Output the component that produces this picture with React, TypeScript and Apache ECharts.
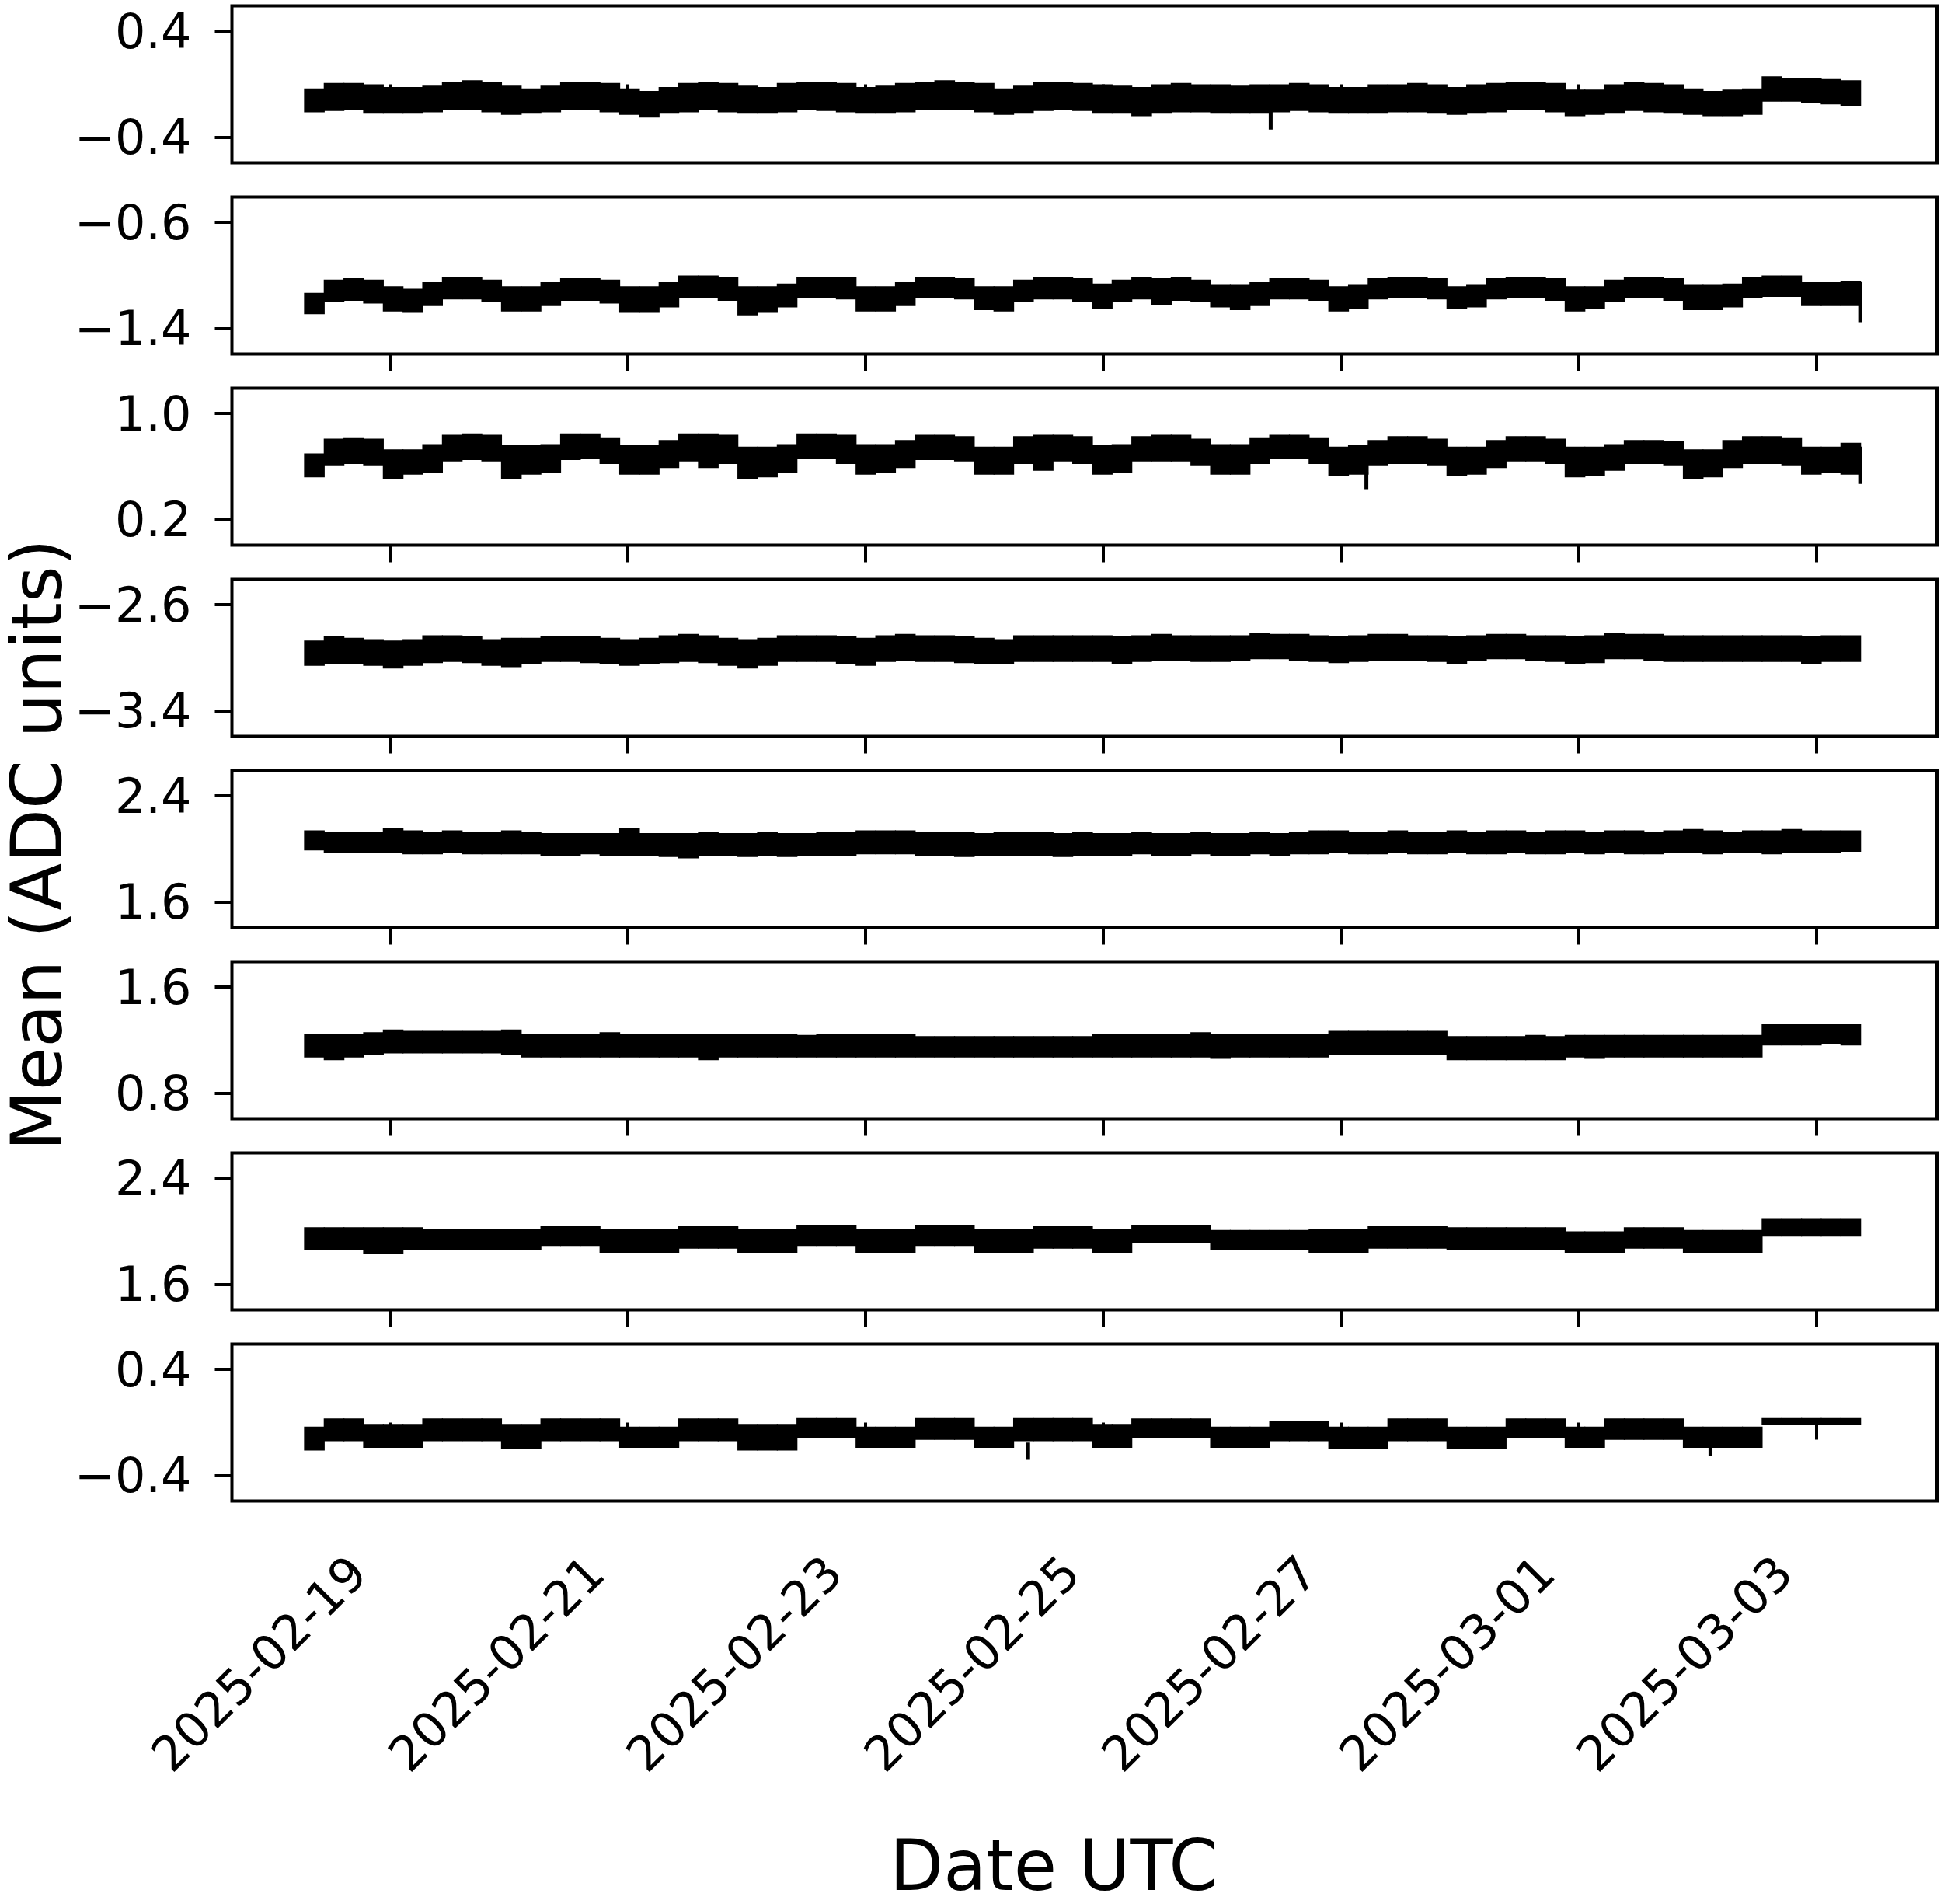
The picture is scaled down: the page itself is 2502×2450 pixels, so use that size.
import React, { useEffect, useRef } from "react";
import * as echarts from "echarts";

// ---- time frame (UTC) ----
const DATA_START = "2025-02-18T06:40:00Z";
const DATA_END = "2025-03-03T09:00:00Z";
const AXIS_START = "2025-02-17T16:00:00Z";
const AXIS_END = "2025-03-04T00:26:00Z";
const X_TICK_LABELS = ["2025-02-19", "2025-02-21", "2025-02-23", "2025-02-25", "2025-02-27", "2025-03-01", "2025-03-03"];

// ---- y axes: tick values and limits per panel ----
const Y_TICKS = [[-0.4, 0.4], [-1.4, -0.6], [0.2, 1.0], [-3.4, -2.6], [1.6, 2.4], [0.8, 1.6], [1.6, 2.4], [-0.4, 0.4]];
const Y_MIN = [-0.59, -1.59, 0.01, -3.59, 1.41, 0.61, 1.41, -0.59];
const Y_MAX = [0.59, -0.41, 1.19, -2.41, 2.59, 1.79, 2.59, 0.59];

// ---- band envelopes (upper / lower edge of the noisy trace, ~4 h bins) ----
const P1_HI = [-0.03, 0.01, 0.01, 0.00, -0.02, -0.02, -0.01, 0.02, 0.03, 0.02,
  -0.01, -0.03, -0.01, 0.02, 0.02, 0.01, -0.03, -0.05, -0.02, 0.01,
  0.02, 0.01, -0.01, -0.02, 0.01, 0.02, 0.02, 0.01, -0.02, -0.01,
  0.01, 0.02, 0.03, 0.02, 0.01, -0.03, -0.01, 0.02, 0.02, 0.01,
  0.00, -0.01, -0.02, 0.00, 0.01, 0.00, 0.00, -0.01, 0.00, 0.00,
  0.01, 0.00, -0.02, -0.02, 0.00, 0.00, 0.01, 0.00, -0.02, 0.00,
  0.01, 0.02, 0.02, 0.01, -0.04, -0.04, 0.00, 0.02, 0.01, 0.00,
  -0.03, -0.05, -0.04, -0.03, 0.06, 0.05, 0.05, 0.04, 0.03];
const P1_LO = [-0.21, -0.20, -0.19, -0.22, -0.22, -0.22, -0.21, -0.19, -0.19, -0.21,
  -0.23, -0.22, -0.21, -0.19, -0.19, -0.21, -0.23, -0.25, -0.22, -0.21,
  -0.19, -0.21, -0.22, -0.22, -0.21, -0.19, -0.20, -0.21, -0.22, -0.22,
  -0.21, -0.19, -0.19, -0.19, -0.21, -0.23, -0.22, -0.20, -0.19, -0.20,
  -0.22, -0.22, -0.24, -0.22, -0.21, -0.21, -0.22, -0.22, -0.22, -0.21,
  -0.20, -0.21, -0.22, -0.22, -0.22, -0.21, -0.21, -0.22, -0.23, -0.22,
  -0.21, -0.19, -0.19, -0.21, -0.24, -0.23, -0.22, -0.20, -0.21, -0.22,
  -0.23, -0.24, -0.24, -0.23, -0.13, -0.13, -0.14, -0.15, -0.16];

const P2_HI = [-1.13, -1.03, -1.02, -1.03, -1.08, -1.10, -1.05, -1.01, -1.01, -1.03,
  -1.08, -1.08, -1.05, -1.02, -1.02, -1.03, -1.08, -1.08, -1.05, -1.00,
  -1.00, -1.01, -1.08, -1.08, -1.06, -1.01, -1.01, -1.01, -1.08, -1.08,
  -1.05, -1.01, -1.01, -1.02, -1.08, -1.08, -1.03, -1.01, -1.01, -1.02,
  -1.06, -1.03, -1.01, -1.02, -1.01, -1.03, -1.07, -1.07, -1.05, -1.02,
  -1.02, -1.03, -1.08, -1.07, -1.02, -1.01, -1.01, -1.02, -1.08, -1.07,
  -1.02, -1.01, -1.01, -1.02, -1.08, -1.08, -1.03, -1.01, -1.01, -1.02,
  -1.07, -1.07, -1.06, -1.01, -1.00, -1.00, -1.05, -1.05, -1.04];
const P2_LO = [-1.29, -1.20, -1.19, -1.21, -1.27, -1.28, -1.23, -1.18, -1.18, -1.20,
  -1.27, -1.27, -1.23, -1.19, -1.19, -1.21, -1.28, -1.28, -1.24, -1.17,
  -1.17, -1.19, -1.30, -1.28, -1.24, -1.17, -1.17, -1.18, -1.27, -1.27,
  -1.23, -1.17, -1.17, -1.18, -1.26, -1.27, -1.20, -1.18, -1.18, -1.20,
  -1.25, -1.20, -1.18, -1.22, -1.19, -1.20, -1.24, -1.26, -1.23, -1.18,
  -1.18, -1.19, -1.27, -1.25, -1.18, -1.17, -1.17, -1.18, -1.25, -1.24,
  -1.18, -1.17, -1.17, -1.19, -1.27, -1.25, -1.20, -1.17, -1.17, -1.19,
  -1.26, -1.26, -1.24, -1.17, -1.16, -1.16, -1.23, -1.23, -1.23];

const P3_HI = [0.70, 0.81, 0.82, 0.81, 0.73, 0.73, 0.77, 0.84, 0.85, 0.84,
  0.76, 0.76, 0.77, 0.85, 0.85, 0.82, 0.76, 0.76, 0.80, 0.85,
  0.85, 0.84, 0.75, 0.75, 0.77, 0.85, 0.85, 0.84, 0.77, 0.77,
  0.80, 0.84, 0.84, 0.83, 0.75, 0.75, 0.83, 0.84, 0.84, 0.83,
  0.76, 0.77, 0.83, 0.84, 0.84, 0.81, 0.77, 0.77, 0.82, 0.84,
  0.84, 0.82, 0.75, 0.76, 0.80, 0.83, 0.83, 0.81, 0.75, 0.75,
  0.80, 0.83, 0.83, 0.81, 0.75, 0.75, 0.77, 0.80, 0.80, 0.79,
  0.73, 0.73, 0.80, 0.83, 0.83, 0.82, 0.75, 0.75, 0.78];
const P3_LO = [0.52, 0.61, 0.62, 0.61, 0.51, 0.54, 0.55, 0.64, 0.65, 0.64,
  0.51, 0.54, 0.55, 0.65, 0.66, 0.62, 0.54, 0.54, 0.59, 0.64,
  0.59, 0.62, 0.51, 0.52, 0.55, 0.66, 0.66, 0.62, 0.54, 0.55,
  0.59, 0.65, 0.65, 0.64, 0.54, 0.54, 0.62, 0.57, 0.64, 0.62,
  0.54, 0.55, 0.64, 0.64, 0.64, 0.61, 0.54, 0.54, 0.62, 0.66,
  0.66, 0.62, 0.53, 0.54, 0.61, 0.62, 0.62, 0.61, 0.53, 0.54,
  0.59, 0.64, 0.64, 0.62, 0.52, 0.53, 0.57, 0.62, 0.62, 0.61,
  0.51, 0.52, 0.59, 0.62, 0.62, 0.61, 0.54, 0.55, 0.54];

const P4_HI = [-2.87, -2.84, -2.85, -2.86, -2.87, -2.86, -2.83, -2.83, -2.84, -2.86,
  -2.85, -2.85, -2.84, -2.84, -2.84, -2.85, -2.86, -2.85, -2.83, -2.82,
  -2.83, -2.85, -2.86, -2.85, -2.83, -2.83, -2.83, -2.84, -2.85, -2.83,
  -2.82, -2.83, -2.83, -2.84, -2.85, -2.86, -2.83, -2.83, -2.83, -2.83,
  -2.83, -2.84, -2.83, -2.82, -2.83, -2.83, -2.83, -2.83, -2.81, -2.82,
  -2.82, -2.83, -2.84, -2.83, -2.82, -2.82, -2.83, -2.83, -2.84, -2.83,
  -2.82, -2.82, -2.83, -2.83, -2.84, -2.83, -2.81, -2.82, -2.82, -2.83,
  -2.83, -2.83, -2.83, -2.83, -2.83, -2.83, -2.84, -2.83, -2.83];
const P4_LO = [-3.06, -3.05, -3.05, -3.06, -3.08, -3.06, -3.04, -3.03, -3.04, -3.06,
  -3.07, -3.05, -3.03, -3.03, -3.04, -3.05, -3.06, -3.05, -3.04, -3.03,
  -3.04, -3.06, -3.08, -3.06, -3.03, -3.03, -3.03, -3.05, -3.06, -3.03,
  -3.02, -3.03, -3.03, -3.04, -3.05, -3.05, -3.03, -3.03, -3.03, -3.03,
  -3.03, -3.05, -3.03, -3.02, -3.02, -3.03, -3.03, -3.02, -3.01, -3.01,
  -3.02, -3.03, -3.04, -3.03, -3.02, -3.02, -3.02, -3.03, -3.05, -3.02,
  -3.01, -3.01, -3.02, -3.03, -3.05, -3.04, -3.01, -3.01, -3.02, -3.03,
  -3.03, -3.03, -3.03, -3.03, -3.03, -3.03, -3.05, -3.03, -3.03];

const P5_HI = [2.14, 2.13, 2.13, 2.13, 2.16, 2.14, 2.13, 2.14, 2.13, 2.13,
  2.14, 2.13, 2.12, 2.12, 2.12, 2.12, 2.16, 2.12, 2.12, 2.12,
  2.13, 2.12, 2.12, 2.13, 2.12, 2.12, 2.13, 2.13, 2.14, 2.14,
  2.14, 2.13, 2.13, 2.13, 2.12, 2.13, 2.13, 2.13, 2.12, 2.13,
  2.12, 2.12, 2.13, 2.12, 2.12, 2.13, 2.12, 2.12, 2.13, 2.12,
  2.13, 2.14, 2.14, 2.13, 2.13, 2.14, 2.13, 2.13, 2.14, 2.13,
  2.14, 2.14, 2.13, 2.14, 2.14, 2.13, 2.14, 2.14, 2.13, 2.14,
  2.15, 2.14, 2.13, 2.14, 2.14, 2.15, 2.14, 2.14, 2.14];
const P5_LO = [1.99, 1.97, 1.97, 1.97, 1.97, 1.96, 1.96, 1.97, 1.96, 1.96,
  1.96, 1.96, 1.95, 1.95, 1.96, 1.95, 1.95, 1.95, 1.94, 1.93,
  1.95, 1.95, 1.94, 1.95, 1.94, 1.95, 1.95, 1.95, 1.96, 1.96,
  1.96, 1.95, 1.95, 1.94, 1.95, 1.95, 1.95, 1.95, 1.94, 1.95,
  1.95, 1.95, 1.96, 1.95, 1.95, 1.96, 1.95, 1.95, 1.96, 1.95,
  1.96, 1.96, 1.97, 1.96, 1.96, 1.97, 1.96, 1.96, 1.97, 1.96,
  1.96, 1.97, 1.96, 1.96, 1.97, 1.96, 1.97, 1.96, 1.96, 1.97,
  1.97, 1.96, 1.97, 1.97, 1.96, 1.97, 1.97, 1.97, 1.98];

const P6_HI = [1.25, 1.25, 1.25, 1.26, 1.28, 1.27, 1.27, 1.27, 1.27, 1.27,
  1.28, 1.25, 1.25, 1.25, 1.25, 1.26, 1.25, 1.25, 1.25, 1.25,
  1.25, 1.25, 1.25, 1.25, 1.25, 1.24, 1.25, 1.25, 1.25, 1.25,
  1.25, 1.23, 1.23, 1.23, 1.23, 1.23, 1.23, 1.23, 1.23, 1.23,
  1.25, 1.25, 1.25, 1.25, 1.25, 1.26, 1.25, 1.25, 1.25, 1.25,
  1.25, 1.25, 1.27, 1.27, 1.27, 1.27, 1.27, 1.27, 1.23, 1.23,
  1.23, 1.23, 1.24, 1.23, 1.24, 1.24, 1.24, 1.24, 1.24, 1.24,
  1.24, 1.24, 1.24, 1.24, 1.32, 1.32, 1.32, 1.32, 1.32];
const P6_LO = [1.07, 1.05, 1.07, 1.09, 1.10, 1.10, 1.10, 1.10, 1.10, 1.10,
  1.09, 1.07, 1.07, 1.07, 1.07, 1.07, 1.07, 1.07, 1.07, 1.07,
  1.05, 1.07, 1.07, 1.07, 1.07, 1.07, 1.07, 1.07, 1.07, 1.07,
  1.07, 1.07, 1.07, 1.07, 1.07, 1.07, 1.07, 1.07, 1.07, 1.07,
  1.07, 1.07, 1.07, 1.07, 1.07, 1.07, 1.06, 1.07, 1.07, 1.07,
  1.07, 1.07, 1.09, 1.09, 1.09, 1.09, 1.09, 1.09, 1.05, 1.05,
  1.05, 1.05, 1.05, 1.05, 1.07, 1.06, 1.07, 1.07, 1.07, 1.07,
  1.07, 1.07, 1.07, 1.07, 1.16, 1.16, 1.16, 1.17, 1.16];

const P7_HI = [2.03, 2.03, 2.03, 2.03, 2.03, 2.03, 2.02, 2.02, 2.02, 2.02,
  2.02, 2.02, 2.04, 2.04, 2.04, 2.02, 2.02, 2.02, 2.02, 2.04,
  2.04, 2.04, 2.02, 2.02, 2.02, 2.05, 2.05, 2.05, 2.02, 2.02,
  2.02, 2.05, 2.05, 2.05, 2.02, 2.02, 2.02, 2.04, 2.04, 2.04,
  2.02, 2.02, 2.05, 2.05, 2.05, 2.05, 2.01, 2.01, 2.01, 2.01,
  2.01, 2.02, 2.02, 2.02, 2.04, 2.04, 2.04, 2.04, 2.03, 2.03,
  2.03, 2.03, 2.03, 2.03, 2.00, 2.00, 2.00, 2.03, 2.03, 2.03,
  2.01, 2.01, 2.01, 2.01, 2.10, 2.10, 2.10, 2.10, 2.10];
const P7_LO = [1.86, 1.86, 1.86, 1.83, 1.83, 1.86, 1.86, 1.86, 1.86, 1.86,
  1.86, 1.86, 1.89, 1.89, 1.89, 1.84, 1.84, 1.84, 1.84, 1.87,
  1.87, 1.87, 1.84, 1.84, 1.84, 1.89, 1.89, 1.89, 1.84, 1.84,
  1.84, 1.89, 1.89, 1.89, 1.84, 1.84, 1.84, 1.87, 1.87, 1.87,
  1.84, 1.84, 1.91, 1.91, 1.91, 1.91, 1.86, 1.86, 1.86, 1.86,
  1.86, 1.84, 1.84, 1.84, 1.87, 1.87, 1.87, 1.87, 1.86, 1.86,
  1.86, 1.86, 1.86, 1.86, 1.84, 1.84, 1.84, 1.87, 1.87, 1.87,
  1.84, 1.84, 1.84, 1.84, 1.96, 1.96, 1.96, 1.96, 1.96];

const P8_HI = [-0.03, 0.03, 0.03, -0.01, -0.01, -0.01, 0.03, 0.03, 0.03, 0.03,
  -0.01, -0.01, 0.03, 0.03, 0.03, 0.03, -0.03, -0.03, -0.03, 0.03,
  0.03, 0.03, -0.01, -0.01, -0.01, 0.04, 0.04, 0.04, -0.03, -0.03,
  -0.03, 0.04, 0.04, 0.04, -0.03, -0.03, 0.04, 0.04, 0.04, 0.04,
  -0.01, -0.01, 0.03, 0.03, 0.03, 0.03, -0.03, -0.03, -0.03, 0.01,
  0.01, 0.01, -0.03, -0.03, -0.03, 0.03, 0.03, 0.03, -0.03, -0.03,
  -0.03, 0.03, 0.03, 0.03, -0.03, -0.03, 0.03, 0.03, 0.03, 0.03,
  -0.03, -0.03, -0.03, -0.03, 0.04, 0.04, 0.04, 0.04, 0.04];
const P8_LO = [-0.21, -0.14, -0.14, -0.19, -0.19, -0.19, -0.14, -0.14, -0.14, -0.14,
  -0.20, -0.20, -0.14, -0.14, -0.14, -0.14, -0.19, -0.19, -0.19, -0.14,
  -0.14, -0.14, -0.21, -0.21, -0.21, -0.12, -0.12, -0.12, -0.19, -0.19,
  -0.19, -0.13, -0.13, -0.13, -0.19, -0.19, -0.14, -0.14, -0.14, -0.14,
  -0.19, -0.19, -0.12, -0.12, -0.12, -0.12, -0.19, -0.19, -0.19, -0.14,
  -0.14, -0.14, -0.20, -0.20, -0.20, -0.14, -0.14, -0.14, -0.20, -0.20,
  -0.20, -0.12, -0.12, -0.12, -0.19, -0.19, -0.13, -0.13, -0.13, -0.13,
  -0.19, -0.19, -0.19, -0.19, -0.02, -0.02, -0.02, -0.02, -0.02];

// ---- isolated excursions (panel index, time, start value, extreme value) ----
const SPIKE_PANEL = [0, 1, 2, 2, 7, 7];
const SPIKE_TIME = ["2025-02-26T09:50:00Z", "2025-03-03T08:55:00Z", "2025-02-27T05:10:00Z", "2025-03-03T08:55:00Z", "2025-02-24T08:50:00Z", "2025-03-02T02:40:00Z"];
const SPIKE_FROM = [-0.20, -1.05, 0.56, 0.75, -0.15, -0.18];
const SPIKE_TO = [-0.34, -1.35, 0.43, 0.47, -0.28, -0.25];

const BANDS = [[P1_HI, P1_LO], [P2_HI, P2_LO], [P3_HI, P3_LO], [P4_HI, P4_LO], [P5_HI, P5_LO], [P6_HI, P6_LO], [P7_HI, P7_LO], [P8_HI, P8_LO]];

const FONT = "DejaVu Sans";

function fmtY(v: number) {
  const s = Math.abs(v).toFixed(1);
  return v < 0 ? "\u2212" + s : s;
}

function buildOption() {
  const t0 = Date.parse(DATA_START);
  const t1 = Date.parse(DATA_END);
  const xMin = Date.parse(AXIS_START);
  const xMax = Date.parse(AXIS_END);
  const xTicks = X_TICK_LABELS.map((s) => Date.parse(s + "T00:00:00Z"));

  const grids: any[] = [];
  const xAxes: any[] = [];
  const yAxes: any[] = [];
  const series: any[] = [];

  BANDS.forEach(([hi, lo], p) => {
    grids.push({
      left: 298.5,
      width: 2194.5,
      top: 7.5 + 246 * p,
      height: 202,
      show: true,
      borderColor: "#000",
      borderWidth: 4,
      backgroundColor: "rgba(0,0,0,0)",
      containLabel: false,
      outerBoundsMode: "none",
    });
    xAxes.push({
      type: "value",
      gridIndex: p,
      min: xMin,
      max: xMax,
      splitLine: { show: false },
      axisLine: { show: false },
      axisTick: { show: true, inside: false, length: 22, lineStyle: { color: "#000", width: 4 }, customValues: xTicks },
      axisLabel: {
        show: p === 7,
        customValues: xTicks,
        rotate: 45,
        margin: 40,
        padding: [0, 59, 0, 0],
        fontSize: 62,
        fontFamily: FONT,
        color: "#000",
        formatter: (v: number) => new Date(v).toISOString().slice(0, 10),
      },
    });
    yAxes.push({
      type: "value",
      gridIndex: p,
      min: Y_MIN[p],
      max: Y_MAX[p],
      splitLine: { show: false },
      axisLine: { show: false },
      axisTick: { show: true, inside: false, length: 22, lineStyle: { color: "#000", width: 4 }, customValues: Y_TICKS[p] },
      axisLabel: {
        customValues: Y_TICKS[p],
        margin: 52,
        padding: [8, 0, 0, 0],
        fontSize: 62,
        fontFamily: FONT,
        color: "#000",
        formatter: fmtY,
      },
    });

    const n = hi.length;
    const step = (t1 - t0) / n;
    const data = hi.map((h: number, i: number) => [t0 + i * step, t0 + (i + 1) * step, lo[i], h]);
    series.push({
      type: "custom",
      xAxisIndex: p,
      yAxisIndex: p,
      silent: true,
      clip: true,
      encode: { x: [0, 1], y: [2, 3] },
      data,
      renderItem: (params: any, api: any) => {
        const a = api.coord([api.value(0), api.value(3)]);
        const b = api.coord([api.value(1), api.value(2)]);
        return {
          type: "rect",
          shape: { x: a[0] - 0.6, y: a[1], width: b[0] - a[0] + 1.2, height: b[1] - a[1] },
          style: { fill: "#000" },
        };
      },
    });

    const spikes: any[] = [];
    SPIKE_PANEL.forEach((sp, k) => {
      if (sp === p) spikes.push([Date.parse(SPIKE_TIME[k]), SPIKE_FROM[k], SPIKE_TO[k]]);
    });
    if (spikes.length) {
      series.push({
        type: "custom",
        xAxisIndex: p,
        yAxisIndex: p,
        silent: true,
        clip: true,
        encode: { x: 0, y: [1, 2] },
        data: spikes,
        renderItem: (params: any, api: any) => {
          const a = api.coord([api.value(0), api.value(1)]);
          const b = api.coord([api.value(0), api.value(2)]);
          return {
            type: "line",
            shape: { x1: a[0], y1: a[1], x2: b[0], y2: b[1] },
            style: { stroke: "#000", lineWidth: 5 },
          };
        },
      });
    }
  });

  return {
    animation: false,
    backgroundColor: "#fff",
    grid: grids,
    xAxis: xAxes,
    yAxis: yAxes,
    series,
    graphic: [
      {
        type: "text",
        x: 47,
        y: 1087,
        rotation: Math.PI / 2,
        style: { text: "Mean (ADC units)", fontSize: 90, fontFamily: FONT, fill: "#000", align: "center", verticalAlign: "middle" },
      },
      {
        type: "text",
        x: 1356,
        y: 2400,
        style: { text: "Date UTC", fontSize: 90, fontFamily: FONT, fill: "#000", align: "center", verticalAlign: "middle" },
      },
    ],
  };
}

export default function App() {
  const ref = useRef<HTMLDivElement>(null);
  useEffect(() => {
    if (!ref.current) return;
    const chart = echarts.init(ref.current, null, { renderer: "svg" });
    chart.setOption(buildOption() as any);
    return () => chart.dispose();
  }, []);
  return (
    <div
      ref={ref}
      style={{ position: "absolute", left: 0, top: 0, width: 2502, height: 2450, background: "#fff" }}
    />
  );
}
